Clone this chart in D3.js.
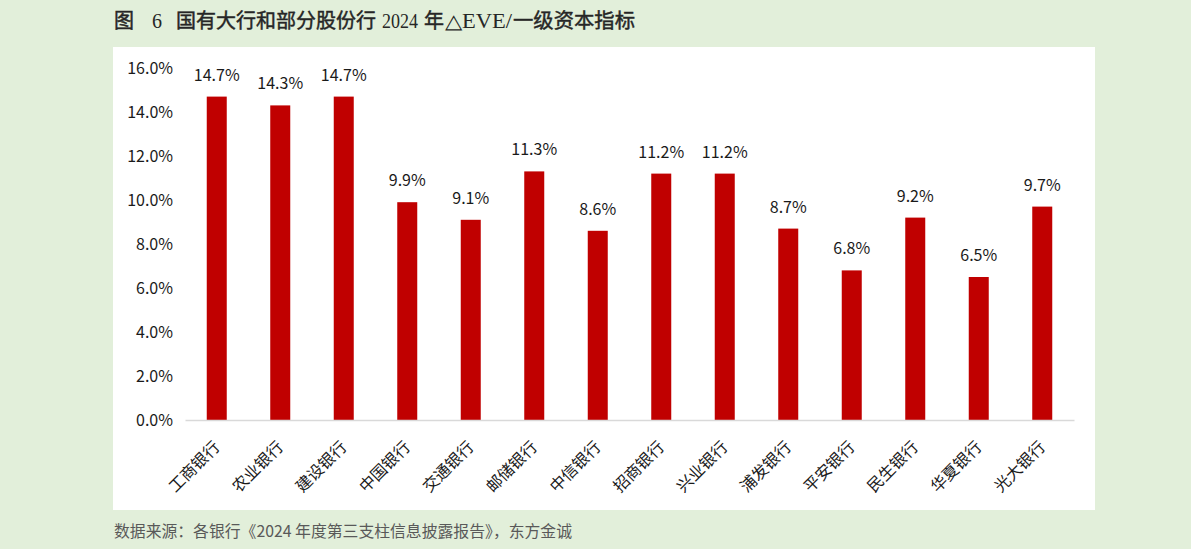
<!DOCTYPE html>
<html><head><meta charset="utf-8">
<script src="https://cdn.jsdelivr.net/npm/d3@7"></script>
<style>
html,body{margin:0;padding:0;background:#e2efda;}
svg{display:block;}
</style></head>
<body>
<svg id="chart" width="1191" height="549"></svg>
<script>
const categories = ["工商银行","农业银行","建设银行","中国银行","交通银行","邮储银行","中信银行","招商银行","兴业银行","浦发银行","平安银行","民生银行","华夏银行","光大银行"];
const values = [14.7,14.3,14.7,9.9,9.1,11.3,8.6,11.2,11.2,8.7,6.8,9.2,6.5,9.7];
const yTicks = [0,2,4,6,8,10,12,14,16];
// title pieces: text, kind, x, width
const titleParts = [["图","cn",114,20],["6","lat",152,10],["国有大行和部分股份行","cn",176,200],["2024","lat",382,36],["年","cn",424,20],["△EVE/","lat",445,67],["一级资本指标","cn",513,122]];
const sourceText = "数据来源：各银行《2024 年度第三支柱信息披露报告》，东方金诚";

const svg = d3.select("#chart");
svg.append("rect").attr("x",0).attr("y",0).attr("width",1191).attr("height",549).attr("fill","#e2efda");
svg.append("rect").attr("x",113).attr("y",47).attr("width",982).attr("height",463).attr("fill","#ffffff");

const cnFont = "'Microsoft YaHei','Noto Sans CJK SC',sans-serif";

// title
const tg = svg.append("g");
titleParts.forEach(([t,k,px,w])=>{
  tg.append("text").text(t)
    .attr("x",px).attr("y",28)
    .attr("font-family", k==="cn" ? "'Noto Sans CJK SC',sans-serif" : "'Liberation Serif',serif")
    .attr("font-size", 20)
    .attr("fill","#262626")
    .attr("stroke", k==="cn" ? "#262626" : "none")
    .attr("stroke-width", 0.45)
    .attr("textLength", w).attr("lengthAdjust","spacingAndGlyphs");
});

// source
svg.append("text").attr("x",114).attr("y",537).attr("font-size",16).attr("fill","#595959")
  .attr("font-family","'Noto Sans CJK SC',sans-serif")
  .attr("textLength",458).attr("lengthAdjust","spacingAndGlyphs")
  .text(sourceText);

const x = d3.scaleBand().domain(categories).range([185,1074]).paddingInner(0.685).paddingOuter(0.3425);
const y = d3.scaleLinear().domain([0,16]).range([420,68]);

// y axis
const yAxis = svg.append("g").attr("transform","translate(185,0)")
  .call(d3.axisLeft(y).tickValues(yTicks).tickFormat(d=>d.toFixed(1)+"%").tickSize(0).tickPadding(12));
yAxis.select(".domain").remove();
yAxis.selectAll("text").attr("font-size",16).attr("font-family",cnFont).attr("fill","#1a1a1a");

// bars
svg.append("g").selectAll("rect").data(values).join("rect")
  .attr("x",(d,i)=>x(categories[i]))
  .attr("y",d=>y(d))
  .attr("width",x.bandwidth())
  .attr("height",d=>y(0)-y(d))
  .attr("fill","#c00000");

// value labels
svg.append("g").selectAll("text").data(values).join("text")
  .attr("x",(d,i)=>x(categories[i])+x.bandwidth()/2)
  .attr("y",d=>y(d)-16)
  .attr("text-anchor","middle")
  .attr("font-size",16).attr("font-family",cnFont).attr("fill","#1a1a1a")
  .text(d=>d.toFixed(1)+"%");

// x axis
const xAxis = svg.append("g").attr("transform","translate(0,420)")
  .call(d3.axisBottom(x).tickSize(0).tickSizeOuter(0));
xAxis.select(".domain").attr("stroke","#d9d9d9").attr("stroke-width",1.5);
xAxis.selectAll("text")
  .attr("font-size",16).attr("font-family",cnFont).attr("fill","#1a1a1a")
  .attr("text-anchor","end")
  .attr("dy",null).attr("y",null)
  .attr("transform","translate(4,28) rotate(-45)");
</script>
</body></html>
